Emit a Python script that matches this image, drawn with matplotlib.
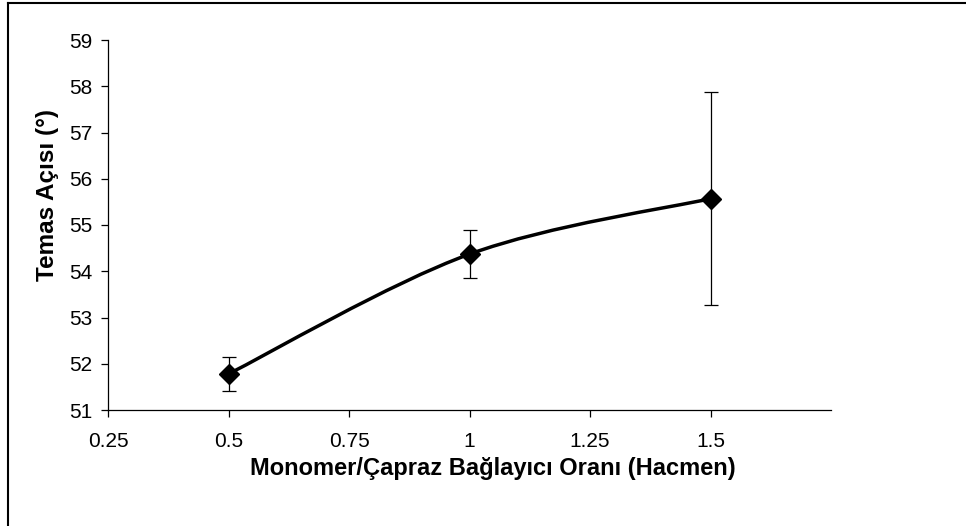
import matplotlib
matplotlib.use('Agg')
import matplotlib.pyplot as plt
from matplotlib.path import Path
from matplotlib.patches import PathPatch
from matplotlib.lines import Line2D
import numpy as np

oran = [0.5, 1.0, 1.5]
temas_acisi = [51.78, 54.37, 55.57]
hata = [0.37, 0.52, 2.31]

x_ticks = [0.25, 0.5, 0.75, 1.0, 1.25, 1.5]
x_tick_labels = ['0.25', '0.5', '0.75', '1', '1.25', '1.5']
y_ticks = [51, 52, 53, 54, 55, 56, 57, 58, 59]

plt.rcParams['font.family'] = ['Liberation Sans', 'DejaVu Sans']

fig = plt.figure(figsize=(9.66, 5.26), dpi=100)
ax = fig.add_axes([108/966, 1-410/526, (831-108)/966, (410-40)/526])

# smoothed line like Excel (cardinal spline drawn as cubic bezier segments)
pts = np.column_stack([oran, temas_acisi])
verts = [pts[0]]
codes = [Path.MOVETO]
for i in range(len(pts) - 1):
    p0 = pts[max(i - 1, 0)]
    p1 = pts[i]
    p2 = pts[i + 1]
    p3 = pts[min(i + 2, len(pts) - 1)]
    verts += [p1 + (p2 - p0) / 6, p2 - (p3 - p1) / 6, p2]
    codes += [Path.CURVE4] * 3
ax.add_patch(PathPatch(Path(verts, codes), fill=False, lw=2.5, color='black', zorder=2))

ax.errorbar(oran, temas_acisi, yerr=hata, fmt='none', ecolor='black',
            elinewidth=0.9, capsize=4.7, capthick=0.9, zorder=3)
ax.plot(oran, temas_acisi, linestyle='none', marker='D', markersize=10,
        color='black', zorder=4)

ax.set_xlim(0.25, 1.75)
ax.set_ylim(51, 59)
ax.set_xticks(x_ticks)
ax.set_xticklabels(x_tick_labels)
ax.set_yticks(y_ticks)
ax.tick_params(direction='out', length=5, width=0.9, labelsize=15)
ax.tick_params(axis='x', pad=11)
ax.tick_params(axis='y', pad=6)

for s in ['top', 'right']:
    ax.spines[s].set_visible(False)
for s in ['left', 'bottom']:
    ax.spines[s].set_linewidth(0.9)

ax.set_xlabel('Monomer/Çapraz Bağlayıcı Oranı (Hacmen)', fontsize=17,
              fontweight='bold')
ax.set_ylabel('Temas Açısı (°)', fontsize=17.5, fontweight='bold')
ax.xaxis.set_label_coords((493-108)/723, -(469-410)/370)
ax.yaxis.set_label_coords(-(108-48)/723, (410-195)/370)
ax.xaxis.label.set_va('center')
ax.yaxis.label.set_va('center')

# outer chart frame (only top and left edges visible)
fig.add_artist(Line2D([8/966, 8/966], [0, 1-3/526], color='black', lw=1.5))
fig.add_artist(Line2D([8/966, 1], [1-3/526, 1-3/526], color='black', lw=1.5))

fig.savefig('out.png', dpi=100)
